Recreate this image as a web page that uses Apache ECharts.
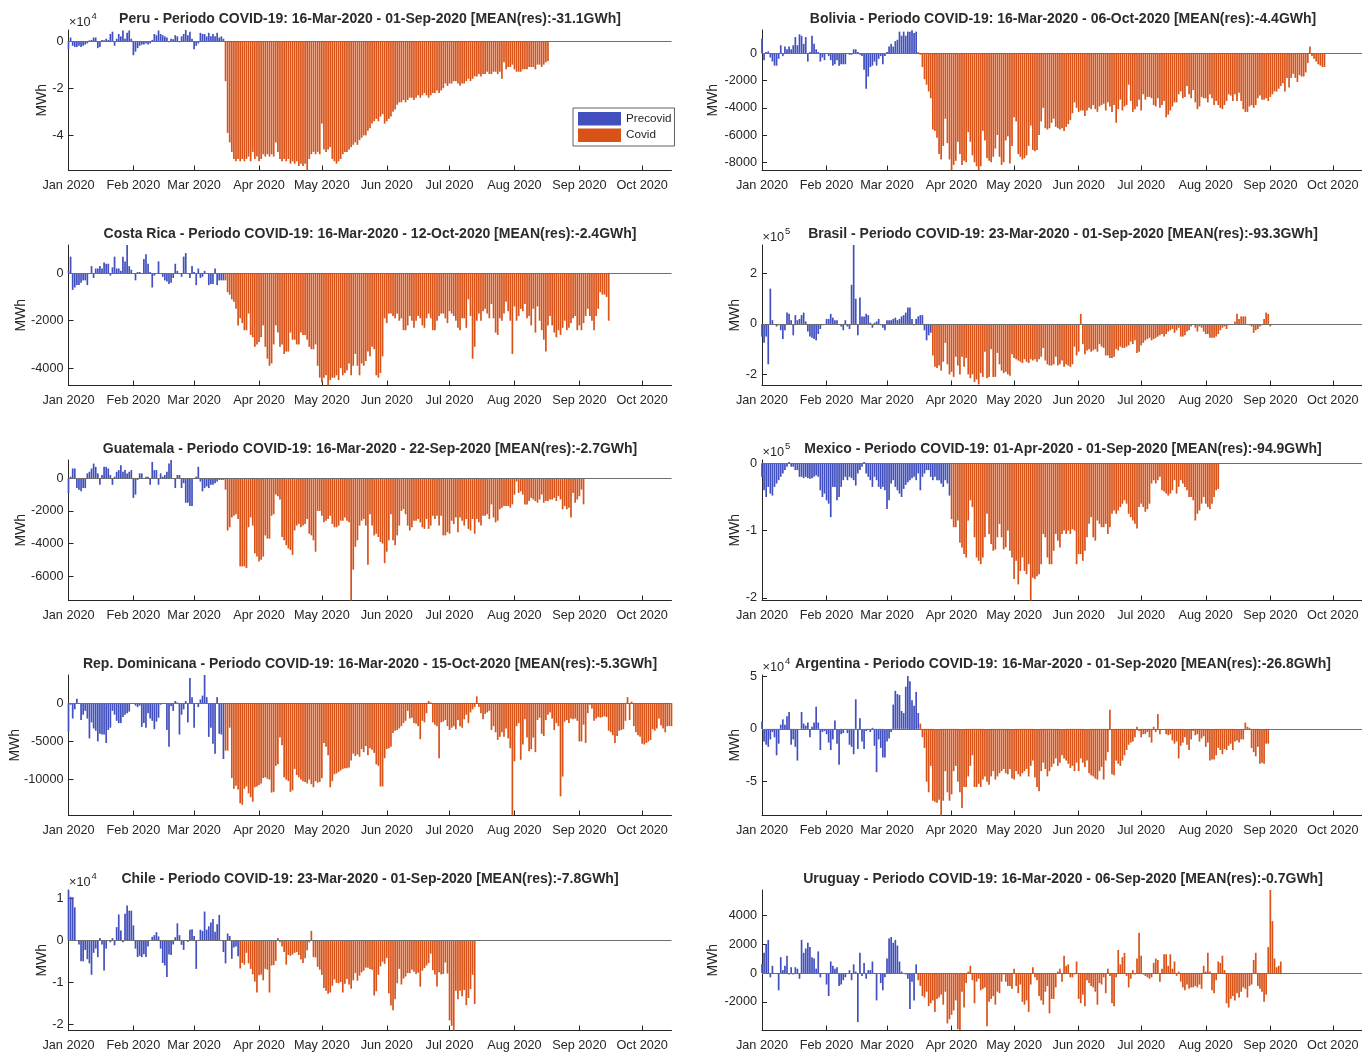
<!DOCTYPE html>
<html><head><meta charset="utf-8">
<script src="https://cdn.jsdelivr.net/npm/echarts@6/dist/echarts.min.js"></script>
<style>html,body{margin:0;padding:0;background:#fff}#c{width:1362px;height:1055px}</style>
</head><body><div id="c"></div>
<script>
// ---- values in thousands of MWh (daily residuals), day 0 = 01-Jan-2020 ----
const UNIT = 1000;
const monthStartDays = [0,31,60,91,121,152,182,213,244,274];
const monthLabels = ['Jan 2020','Feb 2020','Mar 2020','Apr 2020','May 2020','Jun 2020','Jul 2020','Aug 2020','Sep 2020','Oct 2020'];
const LAST_DAY = 288;

const peruPre = [-3.5,1.5,-2,-2.5,-2.5,-2,-2.5,-2,-1.5,-1,
0.3,0.5,1.5,1.5,-3,-2.5,0.5,0.3,1,0.5,
3,4,-2,1,3,2,4.5,1,3.5,4.5,
1,-6,-4.5,-3,-2,-1.5,-1.5,-1,-1.5,-1,
0.5,3,2.5,4.5,3,2.5,2,1.5,-0.5,1,
0.8,2.5,2,-0.5,2,3,4.7,2.5,4,1,
-3.5,-2,-1,3.5,3,3,2,3.5,2,3,
2,3.5,1.5,2,1];
const peruCovid = [-17,-39,-43,-47,-50,-51,-50,-51,-50,-51,
-50,-49,-51,-47,-50,-49,-51,-50,-48,-49,
-48,-49,-48,-49,-43,-47,-50,-51,-50,-51,
-50,-52,-51,-52,-51,-53,-52,-53,-52,-54.9,
-50,-48,-47,-48,-47,-48,-35,-46,-47,-46,
-45,-50,-51,-52,-51,-50,-48,-47,-47,-46,
-45,-44,-43,-44,-42,-41,-40,-40,-38,-37,
-35,-34,-33,-34,-32,-31,-35,-34,-33,-32,
-30,-29,-27,-26,-26,-25,-26,-25,-24,-24,
-25,-24,-23,-24,-23,-22,-23,-24,-23,-22,
-22,-21,-22,-21,-20,-18,-19,-18,-18,-17,
-17,-18,-19,-18,-18,-17,-16,-17,-16,-15,
-15,-14,-15,-14,-14,-13,-14,-14,-13,-13,
-14,-13,-16,-9,-12,-11,-11,-10,-12,-13,
-13,-13,-12,-12,-12,-11,-11,-11,-12,-10,
-10,-11,-10,-9,-8.5];

const boliviaPre = [1.1,-0.5,0.1,0.15,-0.3,-0.6,-0.9,-0.9,-0.4,0.6,
-0.2,0.5,0.3,0.5,0.3,0.6,1.2,0.6,1.4,1.3,
0.7,1.2,-0.6,0.1,1.3,0.7,0.3,0.1,-0.6,-0.3,
-0.5,0,-0.2,-0.5,-0.9,-0.8,-0.5,-0.9,-0.8,-0.8,
-0.8,0,-0.1,-0.1,0.3,0.3,0.1,-0.1,-0.2,-1.2,
-2.6,-1.7,-1.0,-0.9,-0.6,-0.9,-0.4,-0.2,-0.8,-0.2,
0.1,0.5,0.7,0.5,0.9,1.0,1.6,1.3,1.6,1.3,
1.6,1.6,1.7,1.5,1.6];
const boliviaCovid = [0.1,-0.1,-1.0,-1.9,-2.3,-2.8,-3.3,-5.6,-5.7,-6.2,
-7.4,-7.8,-6.8,-4.8,-6.6,-7.8,-8.6,-8.2,-7.9,-6.5,
-7.4,-8.2,-7.9,-8.0,-5.8,-6.5,-7.5,-8.0,-8.3,-8.6,
-8.3,-5.7,-6.4,-7.7,-7.9,-8.0,-7.6,-7.0,-6.0,-7.6,
-8.2,-8.0,-6.4,-6.1,-8.1,-6.8,-4.7,-5.0,-7.4,-7.6,
-7.8,-7.7,-7.5,-6.8,-5.3,-7.1,-7.2,-7.1,-6.0,-5.0,
-4.0,-5.5,-5.6,-5.5,-5.1,-4.8,-5.4,-5.5,-5.6,-5.5,
-5.7,-5.4,-5.2,-4.9,-4.4,-3.6,-4.0,-4.3,-4.2,-4.2,
-4.6,-4.2,-4.0,-4.1,-3.8,-4.1,-4.3,-3.9,-3.8,-3.7,
-4.2,-3.6,-3.9,-4.3,-3.8,-5.1,-4.1,-3.4,-4.2,-3.9,
-3.8,-2.3,-3.5,-4.3,-4.1,-3.9,-3.4,-4.2,-3.0,-3.4,
-3.2,-3.2,-3.3,-3.8,-3.9,-3.3,-4.0,-3.8,-3.5,-4.7,
-4.5,-4.2,-3.9,-3.6,-3.6,-3.0,-2.8,-3.3,-3.2,-2.4,
-3.0,-3.3,-2.7,-3.6,-4.1,-3.9,-3.2,-3.3,-3.3,-3.6,
-3.0,-3.3,-3.8,-3.5,-3.8,-4.0,-4.1,-3.8,-3.5,-3.0,
-3.1,-3.5,-3.0,-3.5,-2.9,-3.5,-4.1,-4.3,-4.3,-3.9,
-3.8,-4.0,-3.8,-3.3,-3.1,-3.4,-3.4,-3.3,-3.5,-3.2,
-3.0,-2.8,-2.8,-2.6,-2.4,-2.2,-2.8,-1.8,-2.5,-1.8,
-1.5,-1.8,-2.1,-1.6,-1.7,-1.7,-1.4,-0.7,0.5,-0.2,
-0.4,-0.6,-0.8,-0.9,-1.0,-1.0];

const costaRicaPre = [0.1,0.7,-0.7,-0.6,-0.5,-0.5,-0.4,-0.3,-0.3,-0.5,
0,0.3,-0.2,0.2,0.2,0.3,0.2,0.45,0.4,0.4,
-0.1,0.25,0.7,0.2,0.2,0.1,0.7,0.5,1.19,0.3,
0.15,0,-0.3,0.05,0.05,0,0.6,0.8,0.4,0.05,
-0.6,-0.1,0,0.5,0,-0.15,-0.3,-0.35,-0.45,-0.4,
-0.2,0.4,0.1,0,-0.15,0.7,0.85,0,-0.2,0.3,
0.05,-0.5,0.2,-0.2,-0.15,0.1,0,-0.5,-0.45,-0.45,
0.2,-0.5,-0.3,-0.3,-0.3];
const costaRicaCovid = [-0.3,-0.8,-0.9,-1.1,-1.2,-1.5,
-2.2,-1.9,-2.1,-2.4,-2.4,-1.7,
-2.6,-2.7,-3.1,-3.0,-2.9,
-2.7,-2.2,-3.1,-3.6,-3.9,-3.8,
-3.0,-2.2,-2.5,-3.1,-3.0,
-3.4,-3.3,-3.3,-2.5,-2.8,-2.8,
-3.0,-3.0,-2.5,-2.6,-2.6,
-2.8,-3.1,-3.2,-3.2,-3.0,
-3.9,-4.4,-4.6,-4.4,-4.3,
-4.73,-4.5,-4.4,-4.4,-4.3,
-4.5,-4.0,-4.3,-4.2,-4.1,
-3.8,-4.3,-3.9,-3.4,-3.9,-4.3,
-3.8,-3.9,-3.7,-3.3,-3.5,
-3.1,-3.2,-4.3,-4.4,-4.2,
-3.5,-1.9,-2.1,
-1.7,-1.7,-1.8,-1.9,-1.7,-2.0,
-1.9,-2.4,-2.4,-2.2,-1.8,
-2.0,-2.3,-2.0,-1.8,-1.9,
-2.2,-2.3,-1.9,-1.7,-1.9,
-2.4,-2.4,-2.0,-1.8,-1.7,
-1.7,-1.9,-2.1,-1.6,-1.7,
-1.8,-2.0,-2.3,-2.4,-1.9,
-1.9,-2.3,-1.1,-1.8,-3.6,
-3.1,-2.0,-1.7,-2.0,-1.6,
-1.5,-1.7,-1.9,-1.3,-1.9,
-2.5,-2.6,-1.9,-2.0,-1.7,
-1.2,-1.6,-2.0,-3.4,-1.4,
-2.0,-1.8,-1.5,-1.6,-1.3,
-1.9,-1.8,-2.2,-1.5,-2.5,
-1.4,-2.0,-2.4,-2.8,-3.3,
-2.2,-1.8,-2.2,-2.5,-2.7,
-2.4,-2.6,-2.3,-2.0,-2.4,-2.3,
-2.1,-1.9,-1.8,-2.4,-2.2,-2.4,
-2.1,-1.8,-1.5,-1.8,-2.0,-2.4,
-1.8,-1.5,-0.8,-0.9,-0.9,-1.0,
-2.0];

const brasilPre = [-50,-75,-50,-160,140,15,0,-10,-5,-25,
-60,-25,45,40,15,-45,35,15,20,35,
45,10,-30,-50,-55,-60,-65,-40,-20,-5,
-2,20,20,40,25,15,15,0,-10,-25,
15,-10,-20,155,313,100,-45,105,30,30,
40,35,5,-15,5,10,20,-5,-15,-25,
15,15,15,20,25,15,20,30,35,45,
65,65,20,-5,20,30,35,35,-25,-65,
-45,-35];
const brasilCovid = [-125,-170,-175,-165,-185,-150,-75,-160,-200,-190,
-210,-130,-165,-200,-130,-170,-135,-200,-215,-200,
-230,-220,-240,-195,-210,-110,-215,-210,-100,-210,
-210,-115,-160,-185,-195,-190,-200,-205,-120,-135,-140,
-145,-150,-155,-140,-150,-155,-140,-145,-140,-150,
-140,-130,-95,-145,-160,-165,-165,-160,-130,-165,
-160,-145,-170,-160,-165,-170,-160,-90,-125,-110,
40,-80,-120,-105,-100,-110,-105,-100,-110,-80,-90,
-95,-125,-125,-135,-135,-130,-100,-105,-90,-95,
-95,-90,-85,-70,-80,-65,-115,-110,-85,-75,
-65,-60,-55,-65,-60,-55,-50,-45,-40,-50,-40,
-30,-25,-20,-35,-25,-15,-50,-50,-45,-30,
-25,-10,0,-15,-30,-10,-15,-30,-40,-40,
-55,-55,-55,-50,-40,-25,-15,-10,-20,-5,-3,
0,10,40,20,30,30,30,0,-5,-10,
-35,-25,-20,-10,-5,20,45,40,-10];

const guatemalaPre = [-0.9,0.1,0.6,0.6,-0.6,-0.7,-0.8,-0.6,-0.6,0.3,
0.4,0.6,0.9,0.7,0.3,-0.4,0.2,0.7,0.7,0.6,
0.2,-0.4,0.1,0.4,0.5,0.8,0.4,0.5,0.3,0.4,
0.5,-1.2,-1.0,-0.1,0.3,0.3,0,0.1,0.1,-0.4,
1.0,0.5,0.5,-0.4,0.3,0.1,0.2,0.4,0.9,1.12,
0,-0.6,0.2,0.2,-0.6,-0.3,-1.5,-1.5,-1.7,-1.7,
0,0.1,0.7,-0.2,-0.8,-0.6,-0.5,-0.6,-0.4,-0.4,
-0.3,-0.2,-0.1,-0.1,-0.1];
const guatemalaCovid = [-0.7,-3.2,-3.0,-2.4,-2.3,-2.2,-2.5,-5.4,-5.4,-5.4,
-5.5,-3.0,-2.4,-2.9,-4.6,-4.8,-5.1,-5.0,-4.8,-3.5,
-3.7,-3.7,-2.3,-2.2,-1.0,-1.1,-1.3,-3.6,-3.8,-4.1,-4.3,
-4.4,-4.7,-3.2,-2.9,-2.8,-3.0,-2.9,-2.8,-2.5,-3.4,
-3.5,-3.8,-4.5,-2.0,-2.0,-2.3,-2.7,-2.6,-2.5,-2.3,-2.8,
-3.0,-3.0,-2.9,-2.6,-2.6,-2.4,-2.6,-2.7,-7.49,-5.6,
-4.2,-3.8,-2.9,-2.6,-2.5,-2.9,-5.3,-2.2,-2.9,-3.5,-3.4,
-3.6,-3.9,-4.0,-5.2,-4.5,-3.8,-2.2,-3.8,-4.1,-3.5,
-2.9,-2.0,-1.9,-2.2,-2.9,-3.2,-3.0,-2.6,-2.6,-2.5,-2.7,
-3.0,-3.1,-2.5,-3.1,-2.9,-2.3,-2.5,-2.3,-2.9,-2.3,
-3.5,-3.5,-3.3,-3.4,-2.6,-2.8,-2.4,-3.3,-2.4,-2.6,-2.9,
-2.5,-3.1,-3.2,-2.5,-3.4,-2.5,-2.7,-2.9,-2.3,-2.3,
-2.2,-2.5,-1.6,-2.4,-2.7,-2.6,-1.9,-1.8,-1.7,-1.7,
-1.7,-1.8,-1.6,-1.0,-0.2,-0.9,-0.8,-1.0,-1.6,-1.6,-1.4,
-1.2,-1.3,-1.4,-1.5,-1.3,-1.0,-1.5,-1.4,-1.4,-1.3,
-1.3,-1.2,-1.4,-1.1,-1.3,-1.9,-1.7,-1.9,-1.8,-2.4,
-0.9,-1.5,-1.3,-1.1,-0.7,-1.6];

const mexicoPre = [-20,-40,-50,-35,-45,-48,-35,-30,-25,-20,
-15,-10,-5,2,-5,-5,-10,-10,-20,-20,
-22,-20,-22,-23,-22,-20,-18,-20,-40,-50,-45,
-55,-60,-80,-35,-35,-55,-50,-35,-25,-20,
-25,-20,-22,-25,-33,-15,-10,-5,2,-15,-20,
-25,-35,-20,-25,-35,-38,-35,-40,-68,-55,
-30,-25,-35,-40,-45,-50,-38,-32,-28,-25,-22,
-20,-25,-15,-40,-20,-15,-10,-10,-20,-25,
-20,-25,-25,-30,-35,-25,-30,-48];
const mexicoCovid = [-83,-95,-95,-85,-118,-125,-135,-140,-85,-55,
-65,-110,-140,-145,-150,-140,-110,-75,-105,-120,
-130,-128,-110,-90,-110,-128,-125,-100,-130,-140,
-172,-145,-180,-160,-140,-160,-165,-150,-204,-170,-172,
-168,-165,-150,-105,-110,-140,-150,-150,-130,-105,
-115,-125,-105,-100,-105,-100,-105,-98,-100,-150,
-135,-135,-145,-130,-110,-90,-80,-110,-115,-85,-90,
-95,-95,-90,-105,-95,-75,-70,-75,-70,-65,
-60,-55,-60,-75,-80,-85,-90,-97,-65,-60,
-65,-72,-68,-60,-30,-25,-30,-25,-20,-40,-42,
-45,-48,-45,-40,-25,-45,-35,-25,-30,-35,
-40,-50,-50,-55,-85,-75,-70,-60,-50,-60,
-65,-68,-60,-50,-40,-38];

const repDomPre = [-3.7,-0.2,-2.0,-0.8,0.6,-0.1,-2.2,-1.5,-1.0,-2.0,
-4.6,-2.5,-3.3,-3.6,-5.0,-4.0,-4.1,-4.1,-5.2,-3.5,
-3.2,-1.0,-1.5,-2.3,-2.6,-2.6,-1.8,-1.5,-1.3,-1.1,
0,0,-0.3,-0.5,-0.3,-3.1,-2.6,-3.2,-1.3,-2.0,-2.3,
-3.4,-2.4,-1.9,-0.2,0,-0.1,-3.5,-5.7,-0.4,-1.0,
0.3,0.1,-4.1,-1.5,-0.8,0.3,-2.5,3.3,0.8,-3.2,
-0.1,-0.5,0.5,1.0,3.7,0.8,-4.4,-3.2,-5.3,-6.6,
0.8,-4.0,-4.1,-7.3];
const repDomCovid = [-6.2,-6.2,-3.2,-9.8,-11.2,-10.8,-11.3,-13.1,-13.3,-11.2,
-10.9,-11.8,-12.3,-12.9,-11.0,-10.9,-10.7,-10.5,-9.8,-9.7,-9.9,
-10.0,-11.7,-11.6,-8.2,-8.0,-4.5,-5.5,-9.7,-10.0,-10.2,
-11.6,-11.4,-8.6,-9.4,-9.7,-10.0,-10.2,-10.3,-10.5,-10.0,-10.6,
-11.0,-10.2,-10.4,-10.3,-9.8,-5.2,-5.7,-6.8,-11.0,-10.2,
-9.3,-9.2,-9.0,-8.8,-8.6,-8.5,-8.5,-8.4,-7.5,-6.6,-6.9,
-6.7,-7.0,-6.0,-6.4,-5.6,-6.8,-5.9,-6.1,-6.5,-8.0,
-8.2,-10.9,-10.9,-7.2,-6.0,-5.9,-5.7,-3.9,-3.6,-3.5,-3.3,
-3.0,-2.6,-2.3,-1.0,-2.0,-1.9,-2.6,-2.7,-3.0,-4.7,
-2.3,-2.5,-1.3,0.3,0.1,-2.5,-2.8,-3.0,-7.2,-2.5,-2.4,
-2.2,-3.0,-3.5,-3.2,-3.0,-3.4,-2.2,-3.0,-3.2,-2.1,
-1.5,-2.6,-1.2,-0.8,-0.5,0.9,-0.5,-1.3,-2.1,-1.4,-1.2,
-1.0,-3.5,-3.0,-3.8,-4.8,-4.4,-3.8,-4.4,-3.3,-4.6,
-5.9,-14.7,-7.6,-3.0,-2.6,-7.4,-5.4,-2.1,-4.5,-6.3,
-6.0,-4.5,-6.4,-2.2,-1.9,-4.0,-4.3,-2.2,-1.5,-1.2,-2.0,
-3.5,-2.6,-3.0,-12.2,-9.6,-2.4,-2.2,-2.6,-2.0,-2.1,
-2.0,-2.3,-5.0,-5.0,-2.8,-5.2,-1.3,-0.2,-0.7,-2.3,-2.0,
-1.8,-1.9,-1.8,-1.7,-1.8,-3.6,-3.8,-4.2,-5.2,-4.3,
-3.6,-3.5,-3.4,-2.3,0.8,-2.2,0.2,-3.0,-3.8,-4.2,
-4.4,-5.3,-5.4,-5.2,-5.0,-4.8,-3.4,-3.6,-3.3,-2.0,
-2.9,-3.3,-3.8,-3.0,-3.0,-3.0];

const argentinaPre = [7,-12,-15,-17,-10,-3,-8,-25,-14,4,
9,4,12,16,-15,-10,-17,-30,0,16,
5,3,6,-8,2,6,21,6,-20,-3,-2,
-5,-13,-20,-10,8,-14,-34,-5,-4,-1,
-4,-15,-17,-24,28,-19,10,-12,-19,-2,-1,
-3,1,-16,-41,-10,-18,-27,-27,-12,-9,
-3,23,36,33,32,17,15,40,50,45,
27,22,35,15];
const argentinaCovid = [5,-8,-18,-50,-60,-35,-68,-69,-70,-67,
-82,-68,-40,-60,-68,-62,-40,-35,-50,-60,
-75,-55,-55,-45,-35,-25,-55,-55,-52,-55,
-48,-45,-50,-53,-45,-40,-48,-45,-42,-40,
-38,-42,-43,-38,-47,-48,-40,-43,-45,-42,-40,
-38,-45,-35,-30,-46,-55,-59,-40,-32,-38,
-45,-40,-36,-33,-28,-35,-32,-25,-28,-30,
-33,-37,-35,-40,-32,-40,-28,-32,-36,-30,
-42,-44,-45,-47,-48,-40,-36,-48,-30,-22,
18,-43,-44,-30,-33,-35,-30,-25,-20,-15,-13,
-12,-8,2,-2,-8,-5,-5,-3,-8,-13,
2,-3,14,-5,0,0,-5,-6,-5,-11,
-14,-12,-28,-16,-13,-8,-15,-20,-10,-2,-6,
-5,-12,-9,-7,-17,-13,-30,-29,-29,-25,
-18,-20,-24,-19,-20,-16,-14,-20,-12,-11,
-13,-10,-10,6,2,1,-18,-22,-26,-17,
-33,-32,-33,-14,-14];

const chilePre = [11.9,10.3,10.2,7.8,0,-1,-5,-5,-2.3,-4.5,
-5.5,-8.2,-3,-2,-4,0.5,-1,-7.2,-2,0,-0.5,
0.5,-1.2,3.1,6.1,2.3,-0.5,6.3,8.2,7,7,
3.5,-2,-4,-3.7,-4,-3.3,-4,-1.5,0,0.8,1.2,
1.9,0.9,-2,-5.4,-6,-8.7,-3.4,-3.5,-1,0.7,
4,1.2,-1.1,-2.3,0,-0.4,2.5,2.6,1,-6.8,
-0.2,2.5,2.2,6.8,2.5,3.3,4.2,5,2,3.8,
6,0,-2.8,-5.5,1.6,1,-4.4,-1.7,-1.5,-3.8];
const chileCovid = [-6.7,-5.4,-5.8,-3,-5.5,-6.8,-8.1,-9.8,-12.4,-8.3,
-8.1,-9.5,-6.8,-7,-12.4,-6,-5.9,-4.9,0.5,-0.5,-1.5,
-2.8,-5.8,-3.5,-3.7,-3.4,-3,-2.8,-3.5,-4.6,-5.4,
-4.3,-2.4,-0.5,2.2,-4,-4.1,-6.3,-7,-8.2,-11.3,-12,
-12.7,-12.4,-10.8,-9.3,-10.1,-10.2,-9.9,-12.4,-10.3,-9.2,
-10.5,-11.5,-9.5,-7.8,-9.6,-8.4,-7.6,-7.2,-6.5,-6.5,-6.8,
-7,-13.1,-12.1,-8.2,-6.2,-5.1,-5.6,-4.2,-12.6,-15.5,
-16.6,-14,-10.2,-6.8,-10.5,-9.1,-8.6,-7.8,-7.8,-7,-7.5,
-8,-7.7,-11,-7.2,-6.6,-6,-5.4,-3.2,-7.1,-8.1,
-11,-7.6,-8.1,-8,-5.3,-7.9,-19,-20.3,-21.4,-12,
-14,-12,-13.3,-11.8,-15.4,-13.7,-11.6,-8.2,-15.1];

const uruguayPre = [0.6,1.4,2.0,2.3,-0.3,0.5,0,0,-1.2,1.1,
0.2,0.5,1.2,-0.1,0.4,-0.1,0.4,0.3,-0.4,2.3,
1.4,1.7,2.1,1.8,1.1,1.0,0.3,1.5,-0.3,0,
0,-0.8,-1.6,0.8,0.5,0.3,0.4,-0.9,-0.8,-0.5,
-0.3,0,0.2,-0.5,0.6,0.1,-3.4,1.4,-0.2,0.7,
-0.4,0.2,0.2,0.8,0,-1.9,0,-0.7,-1.2,-0.3,
1.0,2.4,2.5,2.1,2.3,1.9,0.8,0.1,0,-0.1,
-0.4,-2.5,-0.6,-1.9,0.6];
const uruguayCovid = [-0.5,-0.9,-1.6,-1.7,-1.3,-2.3,-2.1,-1.9,-2.7,-1.8,
-1.7,-1.5,-2.2,-1.3,-3.5,-3.2,-2.9,-2.6,-1.9,-3.9,
-3.98,-1.3,-2.4,-0.7,0.1,0.5,-0.5,-2.1,-0.6,-0.4,
-1.2,-1.1,-1.0,-3.7,-2.0,-1.8,-1.6,-2.2,-1.3,-1.4,-0.6,
-0.1,-0.6,-0.9,-0.9,-1.1,0.3,-0.9,-1.4,-0.8,-2.0,
-2.2,-1.9,-2.7,-0.8,0.4,-0.3,-0.5,-1.6,-1.9,-2.2,
-1.3,-0.9,-2.8,-1.8,-1.8,-1.0,0.1,0.3,-0.6,1.2,0.5,
0.6,-0.3,-0.3,-0.1,0.8,-1.8,-2.1,-1.5,-2.3,-0.5,
-0.7,-0.9,-1.0,-1.3,-2.2,-0.7,-0.8,-0.3,-1.4,0.3,
-0.2,-2.1,-2.3,-0.3,1.6,0.6,1.1,1.4,-0.2,-1.0,-0.4,
0.2,-0.1,1.0,2.8,1.2,-0.1,-0.2,-0.3,-0.4,-0.3,
0.7,1.0,0.9,-0.6,0.3,1.3,1.3,0.5,1.3,0.3,
0.8,-0.2,0.1,-0.6,-1.0,-1.2,-0.8,-1.1,-1.0,-1.0,-0.9,
-1.0,-0.8,-1.1,0.5,0.1,1.4,0.1,-1.2,-1.4,-0.5,
0.8,0.7,1.2,0.2,-2.1,-2.4,-1.8,-1.6,-1.9,-1.4,
-1.7,-1.3,-1.0,-1.1,-1.7,-0.9,-0.8,0.9,1.4,-0.9,
-1.1,-1.3,-2.0,-1.5,1.8,5.76,3.6,1.0,0.4,0.5,0.8];

// ---- panel definitions (y limits and tick values in MWh) ----
const panels = [
 {title:'Peru - Periodo COVID-19: 16-Mar-2020 - 01-Sep-2020 [MEAN(res):-31.1GWh]', pre:peruPre, covid:peruCovid, yMin:-54900, yMax:4700, yTicks:[-40000,-20000,0], exp:4, col:0, row:0, nameX:42},
 {title:'Bolivia - Periodo COVID-19: 16-Mar-2020 - 06-Oct-2020 [MEAN(res):-4.4GWh]', pre:boliviaPre, covid:boliviaCovid, yMin:-8610, yMax:1720, yTicks:[-8000,-6000,-4000,-2000,0], exp:0, col:1, row:0, nameX:713.5},
 {title:'Costa Rica - Periodo COVID-19: 16-Mar-2020 - 12-Oct-2020 [MEAN(res):-2.4GWh]', pre:costaRicaPre, covid:costaRicaCovid, yMin:-4730, yMax:1190, yTicks:[-4000,-2000,0], exp:0, col:0, row:1, nameX:21},
 {title:'Brasil - Periodo COVID-19: 23-Mar-2020 - 01-Sep-2020 [MEAN(res):-93.3GWh]', pre:brasilPre, covid:brasilCovid, yMin:-244000, yMax:313000, yTicks:[-200000,0,200000], exp:5, col:1, row:1, nameX:735},
 {title:'Guatemala - Periodo COVID-19: 16-Mar-2020 - 22-Sep-2020 [MEAN(res):-2.7GWh]', pre:guatemalaPre, covid:guatemalaCovid, yMin:-7490, yMax:1120, yTicks:[-6000,-4000,-2000,0], exp:0, col:0, row:2, nameX:21},
 {title:'Mexico - Periodo COVID-19: 01-Apr-2020 - 01-Sep-2020 [MEAN(res):-94.9GWh]', pre:mexicoPre, covid:mexicoCovid, yMin:-204000, yMax:5000, yTicks:[-200000,-100000,0], exp:5, col:1, row:2, nameX:735},
 {title:'Rep. Dominicana - Periodo COVID-19: 16-Mar-2020 - 15-Oct-2020 [MEAN(res):-5.3GWh]', pre:repDomPre, covid:repDomCovid, yMin:-14700, yMax:3700, yTicks:[-10000,-5000,0], exp:0, col:0, row:3, nameX:15},
 {title:'Argentina - Periodo COVID-19: 16-Mar-2020 - 01-Sep-2020 [MEAN(res):-26.8GWh]', pre:argentinaPre, covid:argentinaCovid, yMin:-82000, yMax:51000, yTicks:[-50000,0,50000], exp:4, col:1, row:3, nameX:735},
 {title:'Chile - Periodo COVID-19: 23-Mar-2020 - 01-Sep-2020 [MEAN(res):-7.8GWh]', pre:chilePre, covid:chileCovid, yMin:-21400, yMax:11900, yTicks:[-20000,-10000,0,10000], exp:4, col:0, row:4, nameX:42},
 {title:'Uruguay - Periodo COVID-19: 16-Mar-2020 - 06-Sep-2020 [MEAN(res):-0.7GWh]', pre:uruguayPre, covid:uruguayCovid, yMin:-3990, yMax:5760, yTicks:[-2000,0,2000,4000], exp:0, col:1, row:4, nameX:713.5}
];

const FONT = '"Liberation Sans", Arial, Helvetica, sans-serif';
const TXT = '#262626';
const BLUE = '#4150BE';
const ORANGE = '#D95319';

const grids=[], xAxes=[], yAxes=[], series=[], elements=[];
panels.forEach((p,i)=>{
  const left = p.col===0 ? 68.5 : 762;
  const width = p.col===0 ? 603 : 602;
  const top = 30 + 215*p.row;
  const height = 140.5;
  grids.push({left, top, width, height});
  xAxes.push({type:'value', gridIndex:i, min:0, max:LAST_DAY,
    axisLine:{show:true, onZero:false, lineStyle:{color:TXT, width:1}},
    axisTick:{show:true, inside:true, length:5, customValues:monthStartDays, lineStyle:{color:TXT}},
    axisLabel:{customValues:monthStartDays, formatter:v=>monthLabels[monthStartDays.indexOf(Math.round(v))]||'', color:TXT, fontSize:12.7, fontFamily:FONT, margin:8},
    splitLine:{show:false}});
  const div = Math.pow(10, p.exp);
  yAxes.push({type:'value', gridIndex:i, min:p.yMin, max:p.yMax,
    axisLine:{show:true, onZero:false, lineStyle:{color:TXT, width:1}},
    axisTick:{show:true, inside:true, length:5, customValues:p.yTicks, lineStyle:{color:TXT}},
    axisLabel:{customValues:p.yTicks, formatter:v=>String(Math.round(v/div)), color:TXT, fontSize:12.7, fontFamily:FONT, margin:5},
    splitLine:{show:false}});
  series.push({type:'bar', name:'Precovid', xAxisIndex:i, yAxisIndex:i, barWidth:1.7, barGap:'-100%',
    itemStyle:{color:BLUE}, silent:true,
    data:p.pre.map((v,d)=>[d, v*UNIT])});
  series.push({type:'bar', name:'Covid', xAxisIndex:i, yAxisIndex:i, barWidth:1.7, barGap:'-100%',
    itemStyle:{color:ORANGE}, silent:true,
    data:p.covid.map((v,k)=>[p.pre.length+k, v*UNIT]),
    markLine:{silent:true, symbol:'none', label:{show:false}, lineStyle:{color:'#6e6e6e', width:1, type:'solid'}, emphasis:{disabled:true}, data:[{yAxis:0}]}});
  elements.push({type:'text', x:left+width/2, y:top-11, silent:true,
    style:{text:p.title, fontSize:14, fontWeight:'bold', fontFamily:FONT, fill:'#2b2b2b', align:'center', verticalAlign:'middle'}});
  elements.push({type:'text', x:p.nameX, y:top+height/2, rotation:Math.PI/2, silent:true,
    style:{text:'MWh', fontSize:14, fontFamily:FONT, fill:TXT, align:'center', verticalAlign:'middle'}});
  if (p.exp) {
    elements.push({type:'text', x:left+0.5, y:top-8, silent:true,
      style:{text:'\u00d710', fontSize:12.7, fontFamily:FONT, fill:TXT, align:'left', verticalAlign:'middle'}});
    elements.push({type:'text', x:left+23, y:top-14, silent:true,
      style:{text:String(p.exp), fontSize:9.5, fontFamily:FONT, fill:TXT, align:'left', verticalAlign:'middle'}});
  }
});

const chart = echarts.init(document.getElementById('c'), null, {renderer:'canvas'});
chart.setOption({
  animation:false,
  backgroundColor:'#ffffff',
  grid:grids, xAxis:xAxes, yAxis:yAxes, series,
  legend:{data:['Precovid','Covid'], orient:'vertical', left:573, top:108, icon:'rect',
    itemWidth:43, itemHeight:13.5, itemGap:3, padding:[4,3,4,5], selectedMode:false,
    borderColor:'#3a3a3a', borderWidth:0.8, backgroundColor:'#ffffff',
    textStyle:{fontFamily:FONT, fontSize:11.7, color:TXT}},
  graphic:{elements}
});
</script></body></html>
